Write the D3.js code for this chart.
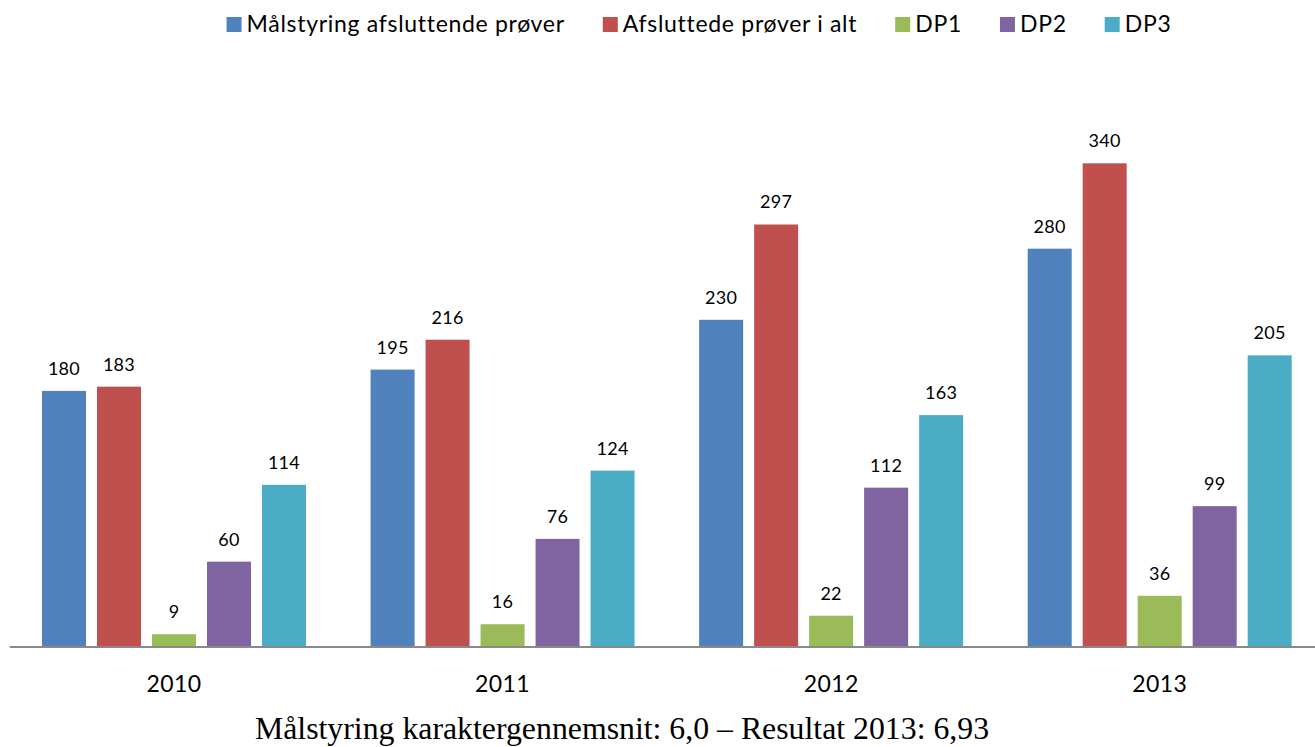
<!DOCTYPE html>
<html>
<head>
<meta charset="utf-8">
<script src="https://cdn.jsdelivr.net/npm/d3@7"></script>
<style>
  body { margin: 0; background: #fff; }
  svg { display: block; }
</style>
</head>
<body>
<svg id="chart"></svg>
<script>
// data
const years = ['2010', '2011', '2012', '2013'];
const seriesNames = ['Målstyring afsluttende prøver', 'Afsluttede prøver i alt', 'DP1', 'DP2', 'DP3'];
const malstyring = [180, 195, 230, 280];
const afsluttede = [183, 216, 297, 340];
const dp1 = [9, 16, 22, 36];
const dp2 = [60, 76, 112, 99];
const dp3 = [114, 124, 163, 205];
const colors = ['#4F81BD', '#C0504D', '#9BBB59', '#8064A2', '#4BACC6'];
const title = 'Målstyring karaktergennemsnit: 6,0 – Resultat 2013: 6,93';

const seriesValues = [malstyring, afsluttede, dp1, dp2, dp3];

const width = 1315, height = 747;
const baseline = 647;

const svg = d3.select('#chart')
    .attr('width', width)
    .attr('height', height);

// scales
const x0 = d3.scaleBand()
    .domain(years)
    .range([9.75, 1324])
    .padding(0);

const x1 = d3.scaleBand()
    .domain(seriesNames)
    .range([32.25, 296.25])
    .paddingInner(0.2)
    .paddingOuter(0);

const y = d3.scaleLinear()
    .domain([0, 400])
    .range([baseline, baseline - 400 * 1.4226]);

// bars
const groups = svg.append('g')
    .selectAll('g')
    .data(years)
    .join('g')
    .attr('transform', d => `translate(${x0(d)},0)`);

groups.selectAll('rect')
    .data((yr, i) => seriesNames.map((s, k) => ({ s, k, v: seriesValues[k][i] })))
    .join('rect')
    .attr('x', d => x1(d.s))
    .attr('y', d => y(d.v))
    .attr('width', x1.bandwidth())
    .attr('height', d => y(0) - y(d.v))
    .attr('fill', d => colors[d.k]);

// value labels
groups.selectAll('text.val')
    .data((yr, i) => seriesNames.map((s, k) => ({ s, k, v: seriesValues[k][i] })))
    .join('text')
    .attr('class', 'val')
    .attr('x', d => x1(d.s) + x1.bandwidth() / 2)
    .attr('y', d => y(d.v) - 16)
    .attr('text-anchor', 'middle')
    .attr('font-family', 'Lato, sans-serif')
    .attr('font-size', 18)
    .attr('letter-spacing', 0.3)
    .attr('fill', '#000')
    .text(d => d.v);

// x axis
const xAxis = svg.append('g')
    .attr('transform', `translate(0,${baseline})`)
    .call(d3.axisBottom(x0).tickSize(0).tickPadding(0));
xAxis.select('.domain')
    .attr('stroke', '#898989')
    .attr('stroke-width', 2)
    .attr('d', `M${x0.range()[0]},0H${x0.range()[1]}`);
xAxis.selectAll('.tick text')
    .attr('y', 45)
    .attr('dy', null)
    .attr('font-family', 'Lato, sans-serif')
    .attr('font-size', 23)
    .attr('letter-spacing', 0.4)
    .attr('fill', '#000');

// legend
const legend = svg.append('g');
const items = legend.selectAll('g')
    .data(seriesNames)
    .join('g');
items.append('rect')
    .attr('width', 15)
    .attr('height', 15)
    .attr('y', 17)
    .attr('fill', (d, i) => colors[i]);
items.append('text')
    .attr('x', 20)
    .attr('y', 32)
    .attr('font-family', 'Lato, sans-serif')
    .attr('font-size', 23)
    .attr('letter-spacing', 0.7)
    .attr('fill', '#000')
    .text(d => d);

let lx = 0;
items.each(function() {
    const g = d3.select(this);
    g.attr('transform', `translate(${lx},0)`);
    const w = g.select('text').node().getComputedTextLength();
    lx += 20 + w + 38;
});
lx -= 38;
legend.attr('transform', `translate(${(232 + 1166) / 2 - lx / 2},0)`);

// title under the chart
svg.append('text')
    .attr('x', 622)
    .attr('y', 739)
    .attr('text-anchor', 'middle')
    .attr('font-family', '"Liberation Serif", "Times New Roman", serif')
    .attr('font-size', 31.8)
    .attr('fill', '#000')
    .text(title);
</script>
</body>
</html>
